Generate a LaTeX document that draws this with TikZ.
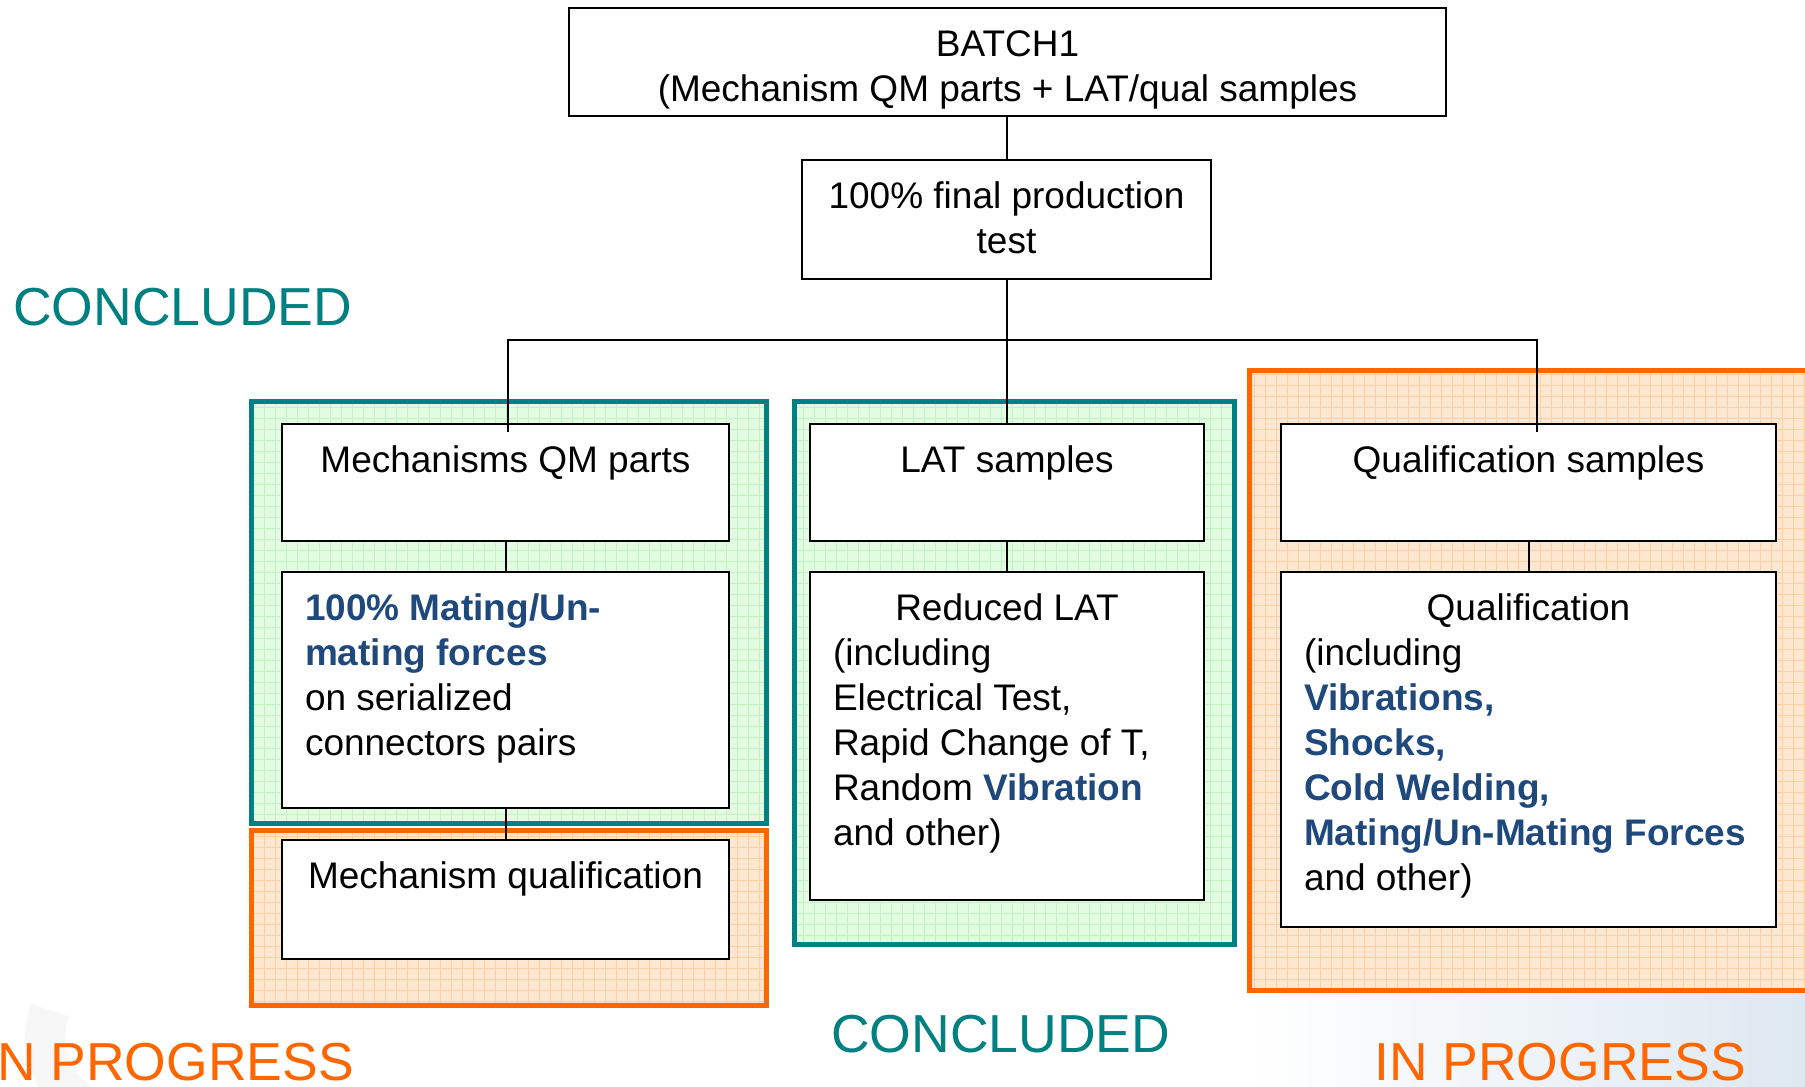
\documentclass[tikz,border=0pt]{standalone}
\usepackage{fontspec}
\setmainfont{Liberation Sans}
\definecolor{tealc}{RGB}{0,128,128}
\definecolor{orangec}{RGB}{255,102,0}
\definecolor{tblue}{RGB}{31,73,125}
\definecolor{gfill}{RGB}{226,252,226}
\definecolor{ggrid}{RGB}{198,240,198}
\definecolor{ofill}{RGB}{253,231,208}
\definecolor{ogrid}{RGB}{250,208,165}
\definecolor{bgblue}{RGB}{222,232,241}
\newcommand{\toptext}[3]{\parbox[c][#2][t]{#1}{\vspace*{17pt}#3}}
\newcommand{\lft}{\raggedright\leftskip=23pt\relax}
\newcommand{\hb}[1]{{\color{tblue}\bfseries #1}}
\begin{document}
\begin{tikzpicture}[x=1pt,y=-1pt,
  box/.style={draw=black,line width=2pt,fill=white,inner sep=0pt,outer sep=0pt,anchor=north west,font=\fontsize{37}{45}\selectfont},
  conn/.style={draw=black,line width=2pt},
  lbl/.style={inner sep=0pt,font=\fontsize{53.5}{60}\selectfont},
  gridline/.style={line width=0.8pt,step=11pt},
]
\useasboundingbox (0,0) rectangle (1805,1087);
\fill[white] (0,0) rectangle (1805,1087);
% faint background watermark
\shade[left color=white,right color=bgblue] (1250,990) rectangle (1805,1087);
\draw[black!3,line width=40pt] (50,1010) arc[start angle=200,end angle=90,radius=80];
% groups
\begin{scope}
 \clip (251,401) rectangle (766,823);
 \fill[gfill] (251,401) rectangle (766,823);
 \draw[ggrid,gridline] (251,401) grid (766,823);
\end{scope}
\draw[tealc,line width=5pt] (251,401) rectangle (766,823);
\begin{scope}
 \clip (794,401) rectangle (1234,944);
 \fill[gfill] (794,401) rectangle (1234,944);
 \draw[ggrid,gridline] (794,401) grid (1234,944);
\end{scope}
\draw[tealc,line width=5pt] (794,401) rectangle (1234,944);
\begin{scope}
 \clip (251,830) rectangle (766,1005);
 \fill[ofill] (251,830) rectangle (766,1005);
 \draw[ogrid,gridline] (251,830) grid (766,1005);
\end{scope}
\draw[orangec,line width=5pt] (251,830) rectangle (766,1005);
\begin{scope}
 \clip (1249,370) rectangle (1815,990);
 \fill[ofill] (1249,370) rectangle (1815,990);
 \draw[ogrid,gridline] (1249,370) grid (1815,990);
\end{scope}
\draw[orangec,line width=5pt] (1249,370) rectangle (1815,990);
% connector end points
\coordinate (busmid) at (1007,340);
\coordinate (mqmtop) at (507.5,426);
\coordinate (qtop) at (1537,426);
\coordinate (battop) at (1007,114);
\coordinate (fintop) at (1007,162);
\coordinate (finbot) at (1007,277);
\coordinate (lattop) at (1007,426);
\draw[conn] (battop) -- (fintop);
\draw[conn] (finbot) -- (lattop);
\draw[conn] (mqmtop) |- (busmid) -| (qtop);
% nodes
\node[box] (batch) at (569,8) {\toptext{877pt}{108pt}{\centering\strut BATCH1\\(Mechanism QM parts + LAT/qual samples\par}};
\node[box] (final) at (802,160) {\toptext{409pt}{119pt}{\centering\strut 100\% final production\\test\par}};
\node[box] (mqm) at (282,424) {\toptext{447pt}{117pt}{\centering\strut Mechanisms QM parts\par}};
\node[box] (mating) at (282,572) {\toptext{447pt}{236pt}{\lft\strut\hb{100\% Mating/Un-}\\\hb{mating forces}\\on serialized\\connectors pairs\par}};
\node[box] (mqual) at (282,840) {\toptext{447pt}{119pt}{\centering\strut Mechanism qualification\par}};
\node[box] (lat) at (810,424) {\toptext{394pt}{117pt}{\centering\strut LAT samples\par}};
\node[box] (rlat) at (810,572) {\toptext{394pt}{328pt}{{\centering\strut Reduced LAT\par}\lft(including\\Electrical Test,\\Rapid Change of T,\\Random \hb{Vibration}\\and other)\par}};
\node[box] (qs) at (1281,424) {\toptext{495pt}{117pt}{\centering\strut Qualification samples\par}};
\node[box] (qual) at (1281,572) {\toptext{495pt}{355pt}{{\centering\strut Qualification\par}\lft(including\\\hb{Vibrations,}\\\hb{Shocks,}\\\hb{Cold Welding,}\\\hb{Mating/Un-Mating Forces}\\and other)\par}};
% connectors between boxes
\draw[conn] (mqm.north -| mqmtop) -- ++(0,8);
\draw[conn] (qs.north -| qtop) -- ++(0,8);
\draw[conn] (mqm.south) -- (mating.north);
\draw[conn] (mating.south) -- (mqual.north);
\draw[conn] (lat.south) -- (rlat.north);
\draw[conn] (qs.south) -- (qual.north);
% labels
\node[lbl,text=tealc,anchor=base west] (c1) at (13,325) {CONCLUDED};
\node[lbl,text=tealc,anchor=base west] (c2) at (831,1052) {CONCLUDED};
\node[lbl,text=orangec,anchor=base east] (p1) at (354,1080) {N PROGRESS};
\node[lbl,text=orangec,anchor=base west] (p2) at (1374,1080) {IN PROGRESS};
\end{tikzpicture}
\end{document}
